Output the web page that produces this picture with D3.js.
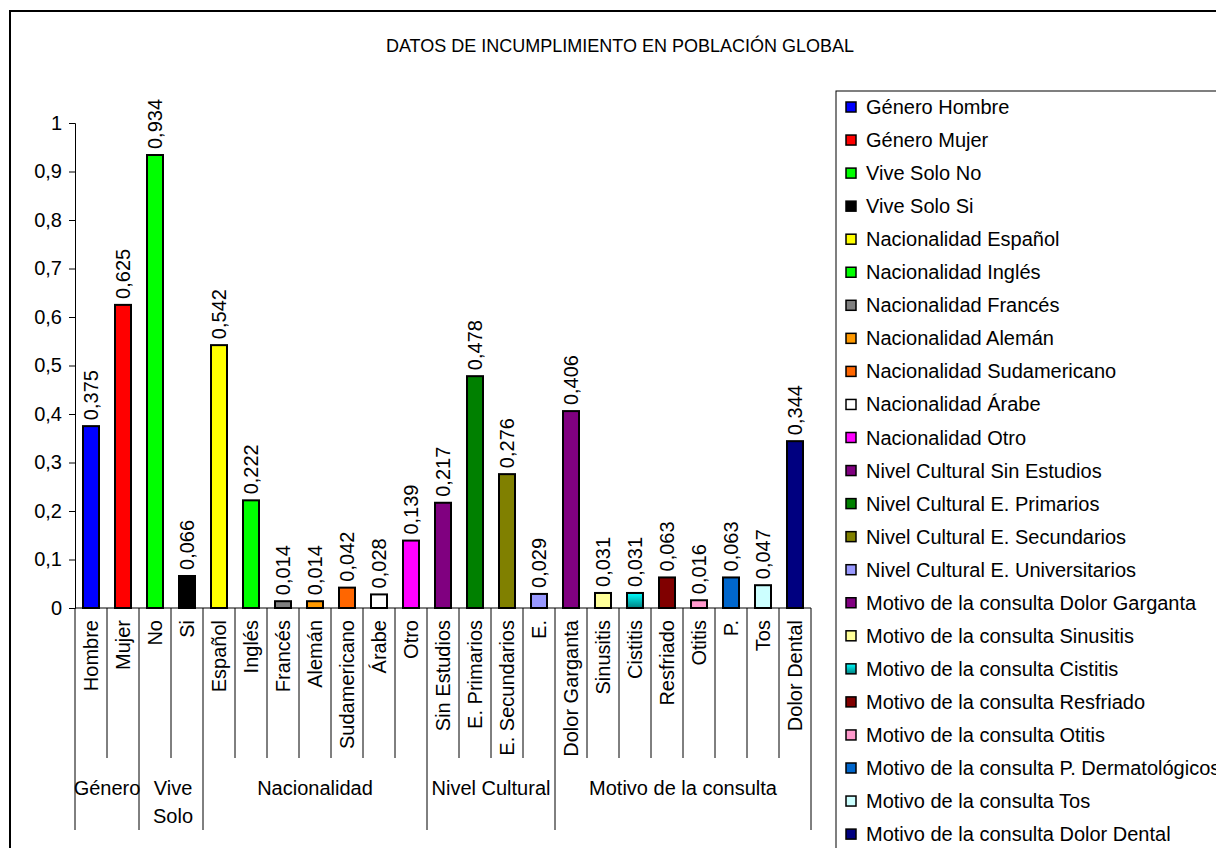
<!DOCTYPE html>
<html lang="es">
<head>
  <meta charset="UTF-8">
  <title>Datos de incumplimiento en población global</title>
  <script src="https://d3js.org/d3.v7.min.js"></script>
  <style>
    body {
      margin: 0;
      background: #fff;
      font-family: "Liberation Sans", Arial, sans-serif;
    }
    svg text { fill: #000; }
  </style>
</head>
<body>
  <svg width="1216" height="848"></svg>

  <script>
    // category labels under the bars (truncated as in the original)
    const categories = ["Hombre", "Mujer", "No", "Si", "Español", "Inglés", "Francés", "Alemán",
      "Sudamericano", "Árabe", "Otro", "Sin Estudios", "E. Primarios", "E. Secundarios", "E.",
      "Dolor Garganta", "Sinusitis", "Cistitis", "Resfriado", "Otitis", "P.", "Tos", "Dolor Dental"];

    const legendNames = ["Género Hombre", "Género Mujer", "Vive Solo No", "Vive Solo Si",
      "Nacionalidad Español", "Nacionalidad Inglés", "Nacionalidad Francés", "Nacionalidad Alemán",
      "Nacionalidad Sudamericano", "Nacionalidad Árabe", "Nacionalidad Otro",
      "Nivel Cultural Sin Estudios", "Nivel Cultural E. Primarios", "Nivel Cultural E. Secundarios",
      "Nivel Cultural E. Universitarios", "Motivo de la consulta Dolor Garganta",
      "Motivo de la consulta Sinusitis", "Motivo de la consulta Cistitis",
      "Motivo de la consulta Resfriado", "Motivo de la consulta Otitis",
      "Motivo de la consulta P. Dermatológicos", "Motivo de la consulta Tos",
      "Motivo de la consulta Dolor Dental"];

    const values = [0.375, 0.625, 0.934, 0.066, 0.542, 0.222, 0.014, 0.014, 0.042, 0.028, 0.139,
      0.217, 0.478, 0.276, 0.029, 0.406, 0.031, 0.031, 0.063, 0.016, 0.063, 0.047, 0.344];

    const colors = ["#0000ff", "#ff0000", "#00ff00", "#000000", "#ffff00", "#00ff00", "#808080",
      "#ff9900", "#ff6600", "#ffffff", "#ff00ff", "#800080", "#008000", "#808000", "#9999ff",
      "#800080", "#ffff99", "url(#cistitis)", "#800000", "#ff99cc", "#0066cc", "#ccffff", "#000080"];

    const groupNames = [["Género"], ["Vive", "Solo"], ["Nacionalidad"], ["Nivel Cultural"], ["Motivo de la consulta"]];
    const groupSizes = [2, 2, 7, 4, 8];

    const yTicks = [0, 0.1, 0.2, 0.3, 0.4, 0.5, 0.6, 0.7, 0.8, 0.9, 1];

    const fmt = v => String(+v.toFixed(3)).replace(".", ",");

    const svg = d3.select("svg");

    const defs = svg.append("defs");
    const grad = defs.append("linearGradient")
      .attr("id", "cistitis")
      .attr("x1", 0).attr("y1", 0).attr("x2", 0).attr("y2", 1);
    grad.append("stop").attr("offset", "0%").attr("stop-color", "#00ffff");
    grad.append("stop").attr("offset", "100%").attr("stop-color", "#008080");

    // outer chart frame (runs past the window on right and bottom)
    svg.append("rect")
      .attr("x", 10).attr("y", 11)
      .attr("width", 1240).attr("height", 880)
      .attr("fill", "none").attr("stroke", "#000").attr("stroke-width", 2);

    svg.append("text")
      .attr("x", 620).attr("y", 52)
      .attr("text-anchor", "middle")
      .attr("font-size", "18px")
      .text("DATOS DE INCUMPLIMIENTO EN POBLACIÓN GLOBAL");

    const plotLeft = 75, plotRight = 811, plotTop = 123, plotBottom = 608;

    const x = d3.scaleBand()
      .domain(d3.range(categories.length))
      .range([plotLeft, plotRight])
      .paddingInner(0.5)
      .paddingOuter(0.25);

    const y = d3.scaleLinear()
      .domain([0, 1])
      .range([plotBottom, plotTop]);

    // y axis
    const yAxis = svg.append("g")
      .attr("transform", `translate(${plotLeft},0)`)
      .call(d3.axisLeft(y).tickValues(yTicks).tickFormat(fmt).tickSize(6).tickPadding(7));
    yAxis.select(".domain").attr("stroke", "#000").attr("stroke-width", 1);
    yAxis.selectAll(".tick line").attr("stroke", "#000");
    yAxis.selectAll(".tick text")
      .attr("font-size", "20px")
      .attr("font-family", "Liberation Sans, Arial, sans-serif");

    // bars
    svg.selectAll("rect.bar")
      .data(values)
      .enter()
      .append("rect")
      .attr("class", "bar")
      .attr("x", (d, i) => x(i))
      .attr("y", d => y(d))
      .attr("width", x.bandwidth())
      .attr("height", d => y(0) - y(d))
      .attr("fill", (d, i) => colors[i])
      .attr("stroke", "#000")
      .attr("stroke-width", 2);

    // value labels
    svg.selectAll("text.val")
      .data(values)
      .enter()
      .append("text")
      .attr("class", "val")
      .attr("transform", (d, i) => `translate(${x(i) + x.bandwidth() / 2 + 7},${y(d) - 6}) rotate(-90)`)
      .attr("font-size", "20px")
      .text(fmt);

    // x axis baseline
    svg.append("line")
      .attr("x1", plotLeft).attr("x2", plotRight)
      .attr("y1", plotBottom).attr("y2", plotBottom)
      .attr("stroke", "#000");

    // category separators
    const step = x.step();
    const slotStart = i => x(i) - step * 0.25;
    svg.selectAll("line.sep")
      .data(d3.range(categories.length + 1))
      .enter()
      .append("line")
      .attr("class", "sep")
      .attr("x1", i => i < categories.length ? slotStart(i) : plotRight)
      .attr("x2", i => i < categories.length ? slotStart(i) : plotRight)
      .attr("y1", plotBottom).attr("y2", 758)
      .attr("stroke", "#000");

    // category labels
    svg.selectAll("text.cat")
      .data(categories)
      .enter()
      .append("text")
      .attr("class", "cat")
      .attr("transform", (d, i) => `translate(${x(i) + x.bandwidth() / 2 + 7},620) rotate(-90)`)
      .attr("text-anchor", "end")
      .attr("font-size", "20px")
      .text(d => d);

    // group separators and labels
    const bounds = [0];
    groupSizes.forEach(n => bounds.push(bounds[bounds.length - 1] + n));
    bounds.forEach(b => {
      const bx = b < categories.length ? slotStart(b) : plotRight;
      svg.append("line")
        .attr("x1", bx).attr("x2", bx)
        .attr("y1", 758).attr("y2", 830)
        .attr("stroke", "#000");
    });
    groupNames.forEach((lines, g) => {
      const x0 = slotStart(bounds[g]);
      const x1 = bounds[g + 1] < categories.length ? slotStart(bounds[g + 1]) : plotRight;
      lines.forEach((t, k) => {
        svg.append("text")
          .attr("x", (x0 + x1) / 2 + (lines.length > 1 ? 2 : 0))
          .attr("y", 795 + k * 28)
          .attr("text-anchor", "middle")
          .attr("font-size", "20px")
          .text(t);
      });
    });

    // legend
    svg.append("rect")
      .attr("x", 836).attr("y", 91)
      .attr("width", 420).attr("height", 800)
      .attr("fill", "#fff").attr("stroke", "#000").attr("stroke-width", 1);

    const legend = svg.selectAll("g.leg")
      .data(legendNames)
      .enter()
      .append("g")
      .attr("class", "leg")
      .attr("transform", (d, i) => `translate(846,${107 + i * 33.05})`);
    legend.append("rect")
      .attr("x", 0).attr("y", -5)
      .attr("width", 10).attr("height", 10)
      .attr("fill", (d, i) => colors[i])
      .attr("stroke", "#000").attr("stroke-width", 1.5);
    legend.append("text")
      .attr("x", 20).attr("y", 7)
      .attr("font-size", "20px")
      .text(d => d);
  </script>
</body>
</html>
